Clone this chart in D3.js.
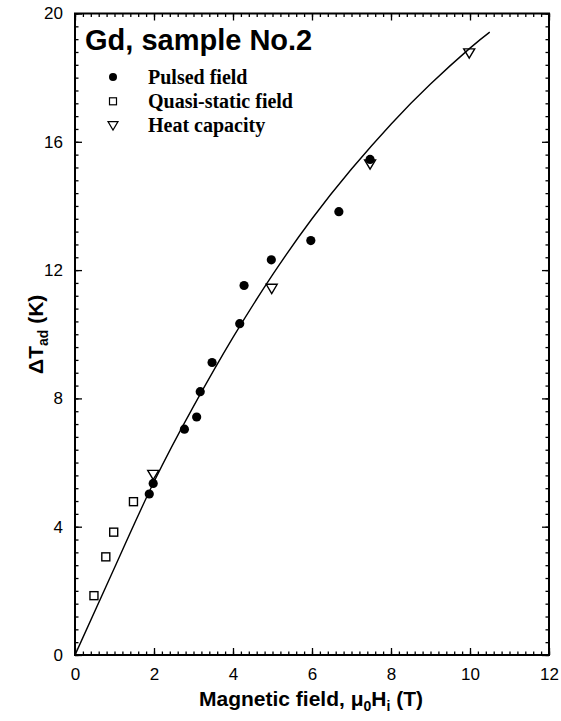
<!DOCTYPE html>
<html>
<head>
<meta charset="utf-8">
<script src="https://cdn.jsdelivr.net/npm/d3@7"></script>
<style>
  body { margin: 0; background: #fff; }
  svg { display: block; }
  .tick text { font-family: "Liberation Sans", Arial, sans-serif; font-size: 17px; fill: #000; }
  .tick line { stroke: #000; stroke-width: 1.3; }
</style>
</head>
<body>
<div id="chart"></div>
<script>
// data
var pulsedX = [1.88, 1.98, 2.77, 3.08, 3.17, 3.47, 4.17, 4.28, 4.97, 5.97, 6.68, 7.47];
var pulsedY = [5.02, 5.35, 7.04, 7.42, 8.21, 9.12, 10.33, 11.52, 12.32, 12.92, 13.82, 15.45];

var quasiX = [0.48, 0.78, 0.98, 1.48];
var quasiY = [1.85, 3.06, 3.83, 4.78];

var heatX = [1.98, 4.98, 7.47, 9.98];
var heatY = [5.62, 11.42, 15.3, 18.76];

// the solid curve
var curveX = [0, 1, 2, 3, 4, 5, 6, 7, 8, 9, 10, 10.5];
var curveY = [0, 2.72, 5.4, 7.75, 9.9, 11.85, 13.6, 15.15, 16.55, 17.8, 18.92, 19.42];

var xTicks = [0, 2, 4, 6, 8, 10, 12];
var yTicks = [0, 4, 8, 12, 16, 20];

var legendNames = ["Pulsed field", "Quasi-static field", "Heat capacity"];

var width = 561, height = 721;
var margin = {left: 75, right: 12, top: 13.5, bottom: 66};

var svg = d3.select("#chart").append("svg")
    .attr("width", width)
    .attr("height", height);

var x = d3.scaleLinear().domain([0, 12]).range([margin.left, width - margin.right]);
var y = d3.scaleLinear().domain([0, 20]).range([height - margin.bottom, margin.top]);

var xMinor = d3.range(0, 12.001, 0.2).map(function(d) { return +d.toFixed(1); });
var yMinor = d3.range(0, 20.001, 0.4).map(function(d) { return +d.toFixed(1); });

// minor ticks, all four sides
svg.append("g").attr("transform", "translate(0," + y(0) + ")")
  .call(d3.axisBottom(x).tickValues(xMinor).tickSize(-3.5).tickFormat(""));
svg.append("g").attr("transform", "translate(0," + y(20) + ")")
  .call(d3.axisTop(x).tickValues(xMinor).tickSize(-3.5).tickFormat(""));
svg.append("g").attr("transform", "translate(" + x(0) + ",0)")
  .call(d3.axisLeft(y).tickValues(yMinor).tickSize(-3.5).tickFormat(""));
svg.append("g").attr("transform", "translate(" + x(12) + ",0)")
  .call(d3.axisRight(y).tickValues(yMinor).tickSize(-3.5).tickFormat(""));

// major ticks
svg.append("g").attr("transform", "translate(0," + y(0) + ")")
  .call(d3.axisBottom(x).tickValues(xTicks).tickSize(-7).tickPadding(13).tickFormat(d3.format("d")));
svg.append("g").attr("transform", "translate(0," + y(20) + ")")
  .call(d3.axisTop(x).tickValues(xTicks).tickSize(-7).tickFormat(""));
svg.append("g").attr("transform", "translate(" + x(0) + ",0)")
  .call(d3.axisLeft(y).tickValues(yTicks).tickSize(-7).tickPadding(12).tickFormat(d3.format("d")));
svg.append("g").attr("transform", "translate(" + x(12) + ",0)")
  .call(d3.axisRight(y).tickValues(yTicks).tickSize(-7).tickFormat(""));

svg.selectAll(".domain").remove();

// frame
svg.append("rect")
  .attr("x", x(0)).attr("y", y(20))
  .attr("width", x(12) - x(0)).attr("height", y(0) - y(20))
  .attr("fill", "none").attr("stroke", "#000").attr("stroke-width", 2);

// curve
var line = d3.line()
  .x(function(d) { return x(d[0]); })
  .y(function(d) { return y(d[1]); })
  .curve(d3.curveNatural);
svg.append("path")
  .datum(d3.zip(curveX, curveY))
  .attr("d", line)
  .attr("fill", "none").attr("stroke", "#000").attr("stroke-width", 1.4);

// symbols
var triPath = function(cx, cy, s) {
  return "M" + (cx - s) + "," + (cy - s * 0.8) + "L" + (cx + s) + "," + (cy - s * 0.8) + "L" + cx + "," + (cy + s * 0.9) + "Z";
};

svg.selectAll("rect.quasi").data(d3.zip(quasiX, quasiY)).enter().append("rect")
  .attr("class", "quasi")
  .attr("x", function(d) { return x(d[0]) - 4; })
  .attr("y", function(d) { return y(d[1]) - 4; })
  .attr("width", 8).attr("height", 8)
  .attr("fill", "#fff").attr("stroke", "#000").attr("stroke-width", 1.4);

svg.selectAll("path.heat").data(d3.zip(heatX, heatY)).enter().append("path")
  .attr("class", "heat")
  .attr("d", function(d) { return triPath(x(d[0]), y(d[1]), 5.5); })
  .attr("fill", "none").attr("stroke", "#000").attr("stroke-width", 1.4);

svg.selectAll("circle.pulsed").data(d3.zip(pulsedX, pulsedY)).enter().append("circle")
  .attr("class", "pulsed")
  .attr("cx", function(d) { return x(d[0]); })
  .attr("cy", function(d) { return y(d[1]); })
  .attr("r", 4.6)
  .attr("fill", "#000");

// title inside plot
svg.append("text")
  .attr("x", 85).attr("y", 50)
  .attr("font-family", "Liberation Sans, Arial, sans-serif")
  .attr("font-weight", "bold").attr("font-size", 29)
  .text("Gd, sample No.2");

// legend
var legX = 113, legTextX = 148, legY0 = 77, legStep = 24.3;
var leg = svg.append("g");
leg.append("circle").attr("cx", legX).attr("cy", legY0).attr("r", 4).attr("fill", "#000");
leg.append("rect").attr("x", legX - 3.5).attr("y", legY0 + legStep - 3.5)
  .attr("width", 7).attr("height", 7)
  .attr("fill", "none").attr("stroke", "#000").attr("stroke-width", 1.2);
leg.append("path").attr("d", triPath(legX, legY0 + 2 * legStep, 5))
  .attr("fill", "none").attr("stroke", "#000").attr("stroke-width", 1.2);
leg.selectAll("text").data(legendNames).enter().append("text")
  .attr("x", legTextX)
  .attr("y", function(d, i) { return legY0 + i * legStep + 6.5; })
  .attr("font-family", "Liberation Serif, Times New Roman, serif")
  .attr("font-weight", "bold").attr("font-size", 20)
  .text(function(d) { return d; });

// x axis title
var xt = svg.append("text")
  .attr("x", (x(0) + x(12)) / 2 - 1).attr("y", 706)
  .attr("text-anchor", "middle")
  .attr("font-family", "Liberation Sans, Arial, sans-serif")
  .attr("font-weight", "bold").attr("font-size", 21);
xt.append("tspan").text("Magnetic field, \u03bc");
xt.append("tspan").attr("font-size", 14).attr("dy", 5).text("0");
xt.append("tspan").attr("dy", -5).text("H");
xt.append("tspan").attr("font-size", 14).attr("dy", 5).text("i");
xt.append("tspan").attr("dy", -5).text(" (T)");

// y axis title
var yt = svg.append("text")
  .attr("transform", "translate(43," + y(10) + ") rotate(-90)")
  .attr("text-anchor", "middle")
  .attr("font-family", "Liberation Sans, Arial, sans-serif")
  .attr("font-weight", "bold").attr("font-size", 21);
yt.append("tspan").text("\u0394T");
yt.append("tspan").attr("font-size", 14).attr("dy", 5).text("ad");
yt.append("tspan").attr("dy", -5).text(" (K)");
</script>
</body>
</html>
